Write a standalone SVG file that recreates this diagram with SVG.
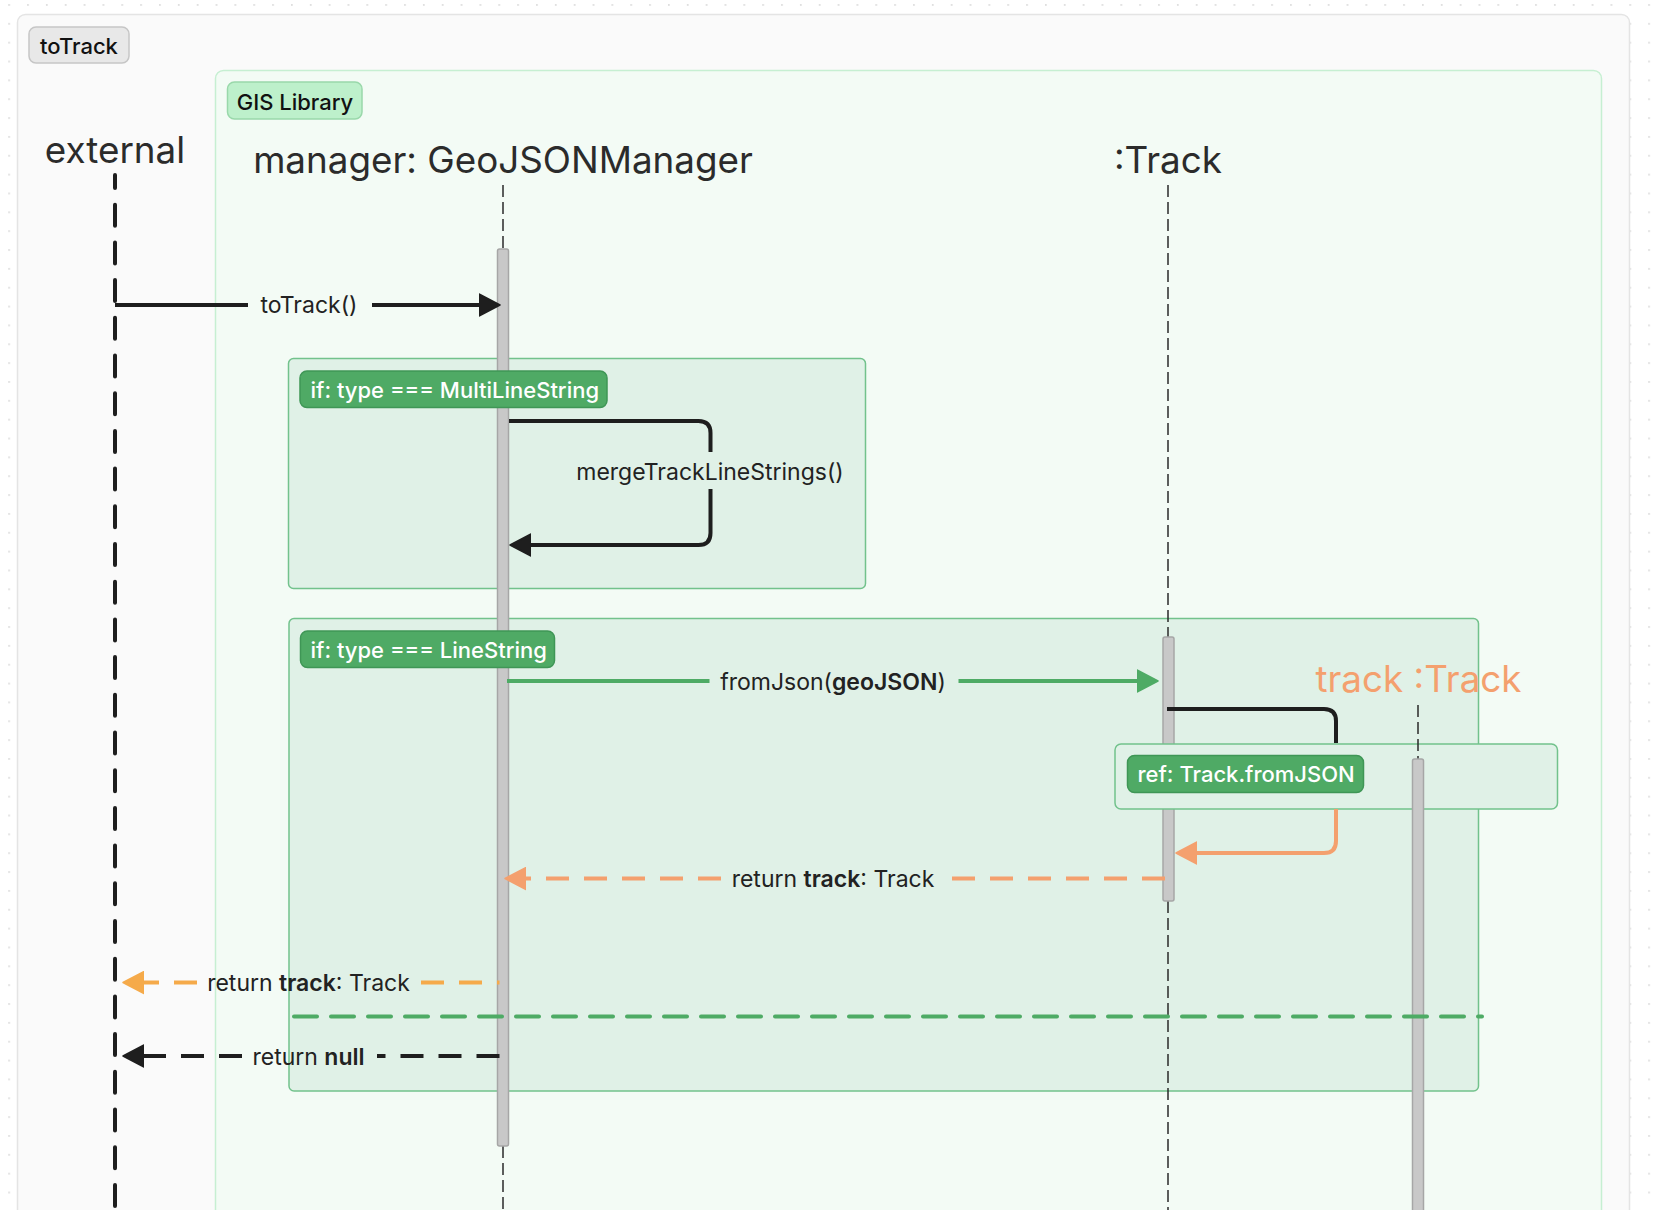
<svg xmlns="http://www.w3.org/2000/svg" width="1660" height="1210" viewBox="0 0 1660 1210">
<defs>
<pattern id="dots" x="8.25" y="4" width="18.85" height="18.85" patternUnits="userSpaceOnUse">
<circle cx="0.9" cy="0.9" r="0.9" fill="#d4d4d4"/>
</pattern>
<marker id="ahBlack" viewBox="0 0 22 24" markerWidth="22" markerHeight="24" refX="0" refY="12" orient="auto" markerUnits="userSpaceOnUse"><path d="M0,1 L21,12 L0,23 Z" fill="#1e1e1e" stroke="#1e1e1e" stroke-width="1.5" stroke-linejoin="round"/></marker>
<marker id="ahGreen" viewBox="0 0 22 24" markerWidth="22" markerHeight="24" refX="0" refY="12" orient="auto" markerUnits="userSpaceOnUse"><path d="M0,1 L21,12 L0,23 Z" fill="#4eab65" stroke="#4eab65" stroke-width="1.5" stroke-linejoin="round"/></marker>
<marker id="ahOrange" viewBox="0 0 22 24" markerWidth="22" markerHeight="24" refX="0" refY="12" orient="auto" markerUnits="userSpaceOnUse"><path d="M0,1 L21,12 L0,23 Z" fill="#f4a06e" stroke="#f4a06e" stroke-width="1.5" stroke-linejoin="round"/></marker>
<marker id="ahAmber" viewBox="0 0 22 24" markerWidth="22" markerHeight="24" refX="0" refY="12" orient="auto" markerUnits="userSpaceOnUse"><path d="M0,1 L21,12 L0,23 Z" fill="#f5aa4a" stroke="#f5aa4a" stroke-width="1.5" stroke-linejoin="round"/></marker>
<style>
text{font-family:Inter,"Liberation Sans",Arial,sans-serif;}
.title{font-size:36.8px;fill:#2b2b2b;text-anchor:middle;}
.msg{font-size:23px;fill:#222;}
.mid{text-anchor:middle;}
.b{font-weight:600;}
.tag{font-size:22px;font-weight:500;fill:#111;}
.gtag{font-size:22px;font-weight:500;fill:#ffffff;}
.gtagbox{fill:#4faa65;stroke:#3f9656;stroke-width:1.5;}
.alt{fill:#e0f1e7;stroke:#72c28c;stroke-width:1.5;}
.life{stroke:#2a2a2a;stroke-width:1.5;stroke-dasharray:12 5;fill:none;}
.bar{fill:#c8c8c8;stroke:#a6a6a6;stroke-width:1.5;}
.solid{fill:none;stroke-width:4;}
.dash{fill:none;stroke-width:4;stroke-dasharray:23 15;}
</style>
</defs>

<rect x="0" y="0" width="1660" height="1210" fill="#ffffff"/>
<rect x="0" y="0" width="1660" height="1210" fill="url(#dots)"/>

<g id="frame-toTrack">
<rect x="17.5" y="14.5" width="1612" height="1260" rx="8" fill="#fafafa" stroke="#e4e4e4" stroke-width="1.5"/>
<rect x="29" y="27" width="100" height="36" rx="7" fill="#e8e8e8" stroke="#c6c6c6" stroke-width="1.5"/>
<text class="tag mid" x="79" y="54">toTrack</text>
</g>

<g id="boundary-gis">
<rect x="215.5" y="70.5" width="1386" height="1220" rx="8" fill="#f3fbf5" stroke="#c6efd2" stroke-width="1.5"/>
<rect x="227.5" y="82" width="134.5" height="37" rx="7" fill="#bdf0cb" stroke="#99d8aa" stroke-width="1.5"/>
<text class="tag mid" x="295" y="109.5">GIS Library</text>
</g>

<g id="alt-multilinestring">
<rect class="alt" x="288.5" y="358.5" width="577" height="230" rx="5"/>
</g>
<g id="alt-linestring">
<rect class="alt" x="289" y="618.5" width="1189.5" height="472.5" rx="5"/>
</g>

<g id="external">
<text class="title" x="115" y="163">external</text>
<path d="M115,175 V1215" fill="none" stroke="#1e1e1e" stroke-width="4" stroke-linecap="round" stroke-dasharray="21 16.7" stroke-dashoffset="8"/>
</g>

<g id="manager">
<text class="title" x="503" y="173">manager: GeoJSONManager</text>
<path class="life" d="M503,185 V249 M503,1146 V1210"/>
<rect class="bar" x="497.5" y="249" width="11" height="897" rx="2"/>
</g>

<g id="track">
<text class="title" x="1168" y="173">:Track</text>
<path class="life" d="M1168,185 V637 M1168,901 V1210"/>
<rect class="bar" x="1163" y="637" width="11" height="264" rx="2"/>
</g>

<g id="label-multilinestring">
<rect class="gtagbox" x="300" y="371" width="307" height="36.5" rx="7"/>
<text class="gtag" x="310.5" y="397.5">if: type === MultiLineString</text>
</g>
<g id="label-linestring">
<rect class="gtagbox" x="300.5" y="631" width="254" height="36.5" rx="7"/>
<text class="gtag" x="310.5" y="657.5">if: type === LineString</text>
</g>

<g id="ref-fromjson">
<rect class="alt" x="1115" y="744" width="442.5" height="65" rx="6"/>
<rect class="gtagbox" x="1127.5" y="755.5" width="236" height="37" rx="7"/>
<text class="gtag" x="1137.5" y="782">ref: Track.fromJSON</text>
</g>

<g id="track-object">
<text class="title" x="1418.5" y="692" style="fill:#f4a06e">track :Track</text>
<path class="life" d="M1418,705 V759"/>
<rect class="bar" x="1412.5" y="759" width="11" height="500" rx="2"/>
</g>

<g id="connectors">
<path class="solid" stroke="#1e1e1e" d="M115,305 H248 M372,305 H479" marker-end="url(#ahBlack)"/>
<text class="msg mid" x="309" y="312.5">toTrack()</text>

<path class="solid" stroke="#1e1e1e" d="M509,421 H698.5 Q710.5,421 710.5,433 V452 M710.5,489 V533 Q710.5,545 698.5,545 H531" marker-end="url(#ahBlack)"/>
<text class="msg mid" x="710" y="479.5">mergeTrackLineStrings()</text>

<path class="solid" stroke="#4eab65" d="M507,681 H709.5 M958.5,681 H1137" marker-end="url(#ahGreen)"/>
<text class="msg mid" x="833" y="690">fromJson(<tspan class="b">geoJSON</tspan>)</text>

<path class="solid" stroke="#1e1e1e" d="M1167,709 H1324 Q1336,709 1336,721 V743"/>
<path class="solid" stroke="#f4a06e" d="M1336,809 V841 Q1336,853 1324,853 H1197" marker-end="url(#ahOrange)"/>

<path class="dash" stroke="#f4a06e" d="M1165,878.5 H946 M721,878.5 H526" marker-end="url(#ahOrange)"/>
<text class="msg mid" x="833" y="887">return <tspan class="b">track</tspan>: Track</text>

<path class="dash" stroke="#f5aa4a" d="M421,982.5 H499.5 M197,982.5 H144" marker-end="url(#ahAmber)"/>
<text class="msg mid" x="308.5" y="991">return <tspan class="b">track</tspan>: Track</text>

<path fill="none" stroke="#4eab65" stroke-width="4" stroke-linecap="round" stroke-dasharray="23 14" d="M294,1016.5 H1482"/>

<path class="dash" stroke="#1e1e1e" d="M499.5,1056 H377 M242,1056 H144" marker-end="url(#ahBlack)"/>
<text class="msg mid" x="308.5" y="1064.5">return <tspan class="b">null</tspan></text>
</g>
</svg>
